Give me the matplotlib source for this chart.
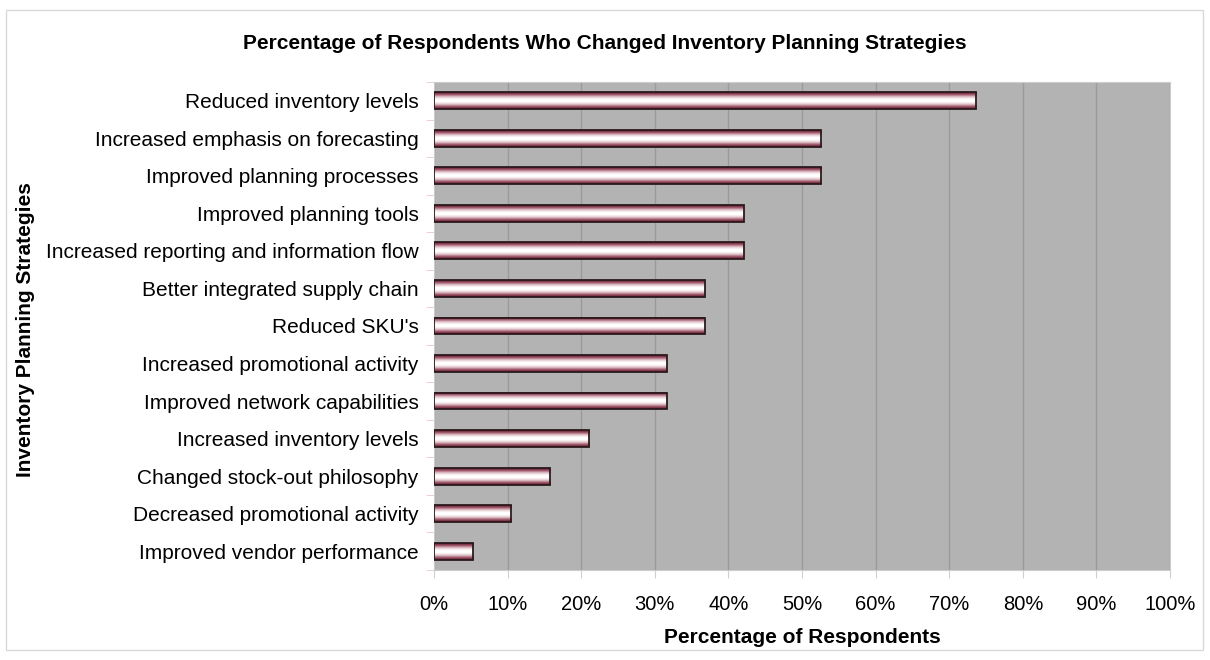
import numpy as np
import matplotlib
matplotlib.use("Agg")
import matplotlib.pyplot as plt
from matplotlib.colors import LinearSegmentedColormap
from matplotlib.patches import Rectangle
from matplotlib.ticker import FixedLocator, PercentFormatter

plt.rcParams['font.family'] = ['Liberation Sans', 'DejaVu Sans']

strategies = [
    "Reduced inventory levels",
    "Increased emphasis on forecasting",
    "Improved planning processes",
    "Improved planning tools",
    "Increased reporting and information flow",
    "Better integrated supply chain",
    "Reduced SKU's",
    "Increased promotional activity",
    "Improved network capabilities",
    "Increased inventory levels",
    "Changed stock-out philosophy",
    "Decreased promotional activity",
    "Improved vendor performance",
]
pct = [73.7, 52.6, 52.6, 42.1, 42.1, 36.8, 36.8, 31.6, 31.6, 21.1, 15.8, 10.5, 5.3]
x_ticks = [0, 10, 20, 30, 40, 50, 60, 70, 80, 90, 100]

fig = plt.figure(figsize=(12.1, 6.6), dpi=100)
fig.patches.append(Rectangle((0.005, 0.015), 0.989, 0.97, transform=fig.transFigure,
                             fill=False, edgecolor='#d9d9d9', linewidth=1))
ax = fig.add_axes([0.3587, 0.1364, 0.6083, 0.7394])
ax.set_facecolor('#b3b3b3')

# cylinder-like shading across the bar height
shade = LinearSegmentedColormap.from_list(
    'shade', ['#5c1024', '#a05a6c', '#e4c8cf', '#ffffff', '#ffffff', '#e4c8cf', '#a05a6c', '#5c1024'])
grad = np.linspace(0, 1, 64).reshape(-1, 1)

h = 0.45
ypos = np.arange(len(strategies))
for y, v in zip(ypos, pct):
    ax.imshow(grad, cmap=shade, aspect='auto', interpolation='bilinear',
              extent=[0, v, y + h / 2, y - h / 2], zorder=3)
ax.barh(ypos, pct, height=h, facecolor='none', edgecolor='#2b1a1e', linewidth=1.3, zorder=4)

ax.set_xlim(0, 100)
ax.set_ylim(len(strategies) - 0.5, -0.5)
ax.xaxis.set_major_locator(FixedLocator(x_ticks))
ax.xaxis.set_major_formatter(PercentFormatter(decimals=0))
ax.grid(axis='x', color='#9a9a9a', linewidth=1, zorder=1)
ax.set_axisbelow(True)

ax.set_yticks(ypos)
ax.set_yticklabels(strategies, fontsize=15)
ax.set_yticks(np.arange(len(strategies) + 1) - 0.5, minor=True)
ax.tick_params(axis='y', which='major', length=0, pad=11)
ax.tick_params(axis='y', which='minor', length=6, color='#e8c8d0')
ax.tick_params(axis='x', labelsize=14.5, length=6, color='#d0d0d0', pad=12)

for s in ax.spines.values():
    s.set_color('#cccccc')

ax.set_xlabel("Percentage of Respondents", fontsize=15, fontweight='bold', labelpad=10)
fig.text(0.021, 0.5, "Inventory Planning Strategies", rotation=90, fontsize=15,
         fontweight='bold', ha='center', va='center')
fig.text(0.5, 0.934, "Percentage of Respondents Who Changed Inventory Planning Strategies",
         fontsize=15, fontweight='bold', ha='center', va='center')

fig.savefig("out.png", dpi=100)
